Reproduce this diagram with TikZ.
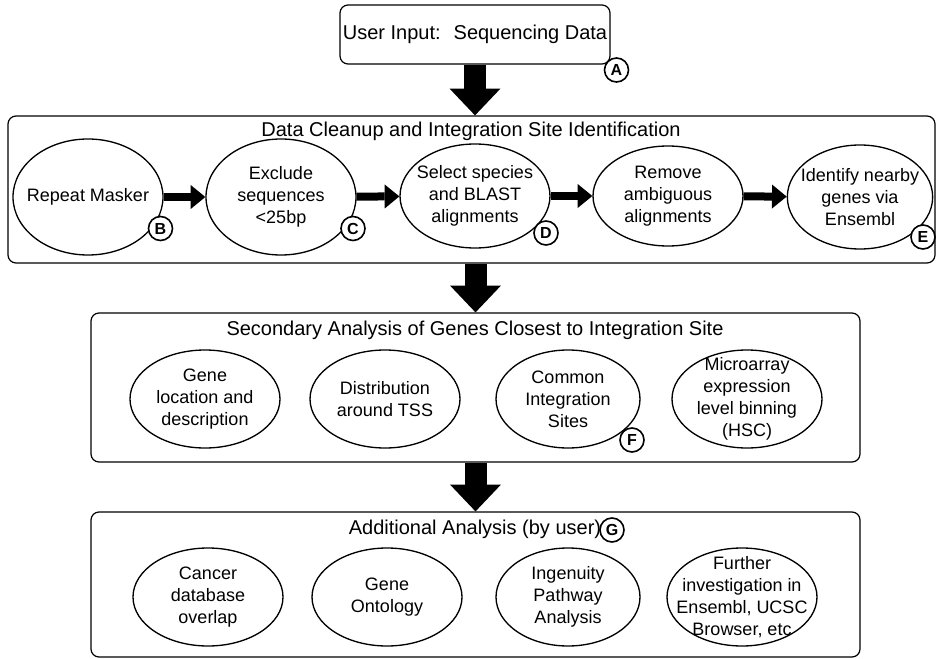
\documentclass[tikz,border=0pt]{standalone}
\usepackage{fontspec}
\setmainfont{Liberation Sans}
\usetikzlibrary{shapes}
\usetikzlibrary{arrows.meta}

\tikzset{
  panel/.style={draw, rounded corners=6pt, line width=0.9pt, inner sep=0pt},
  stage/.style={draw, ellipse, line width=1pt, inner sep=-10pt, align=center,
    font=\fontsize{13.5}{16.5}\selectfont, minimum width=112.5pt, minimum height=73.5pt},
  tag/.style={draw, circle, fill=white, line width=1.2pt, inner sep=0pt, minimum size=18pt,
    font=\fontsize{12}{12}\selectfont\bfseries},
  heading/.style={font=\fontsize{15}{18}\selectfont, inner sep=0pt},
  bigarrow/.style={line width=16.5pt, -{Triangle[width=38pt,length=20pt,line width=0pt]}},
  flow/.style={line width=6pt, -{Triangle[width=18pt,length=11pt,line width=0pt]}},
}

\begin{document}
\begin{tikzpicture}[x=0.75pt,y=0.75pt,yscale=-1,xscale=1]

    \useasboundingbox (0,0) rectangle (938,659);

    %Input box
    \node[panel, minimum width=202.5pt, minimum height=44.25pt, heading] (input) at (475,34.5) {User Input:~ Sequencing Data};

    %Panels
    \node[panel, minimum width=695.25pt, minimum height=110.25pt] (cleanup) at (471.5,189.5) {};
    \node[heading] (cleanuptitle) at (471,131) {Data Cleanup and Integration Site Identification};
    \node[panel, minimum width=576.75pt, minimum height=111.75pt] (secondary) at (475.5,387.5) {};
    \node[heading] (secondarytitle) at (475,330) {Secondary Analysis of Genes Closest to Integration Site};
    \node[panel, minimum width=576.75pt, minimum height=108.75pt] (additional) at (475.5,584.5) {};
    \node[heading] (additionaltitle) at (475,529) {Additional Analysis (by user)};

    %Cleanup steps
    \node[stage, minimum height=87pt] (masker) at (88,197) {Repeat Masker};
    \node[stage, minimum height=87pt] (exclude) at (281,197) {Exclude\\sequences\\<25bp};
    \node[stage, minimum height=78pt] (blast) at (475,196) {Select species\\and BLAST\\alignments};
    \node[stage, minimum height=75pt] (ambig) at (668,196) {Remove\\ambiguous\\alignments};
    \node[stage, minimum height=78pt, minimum width=109pt] (genes) at (860,197) {Identify nearby\\genes via\\Ensembl};

    \draw[flow] (masker) -- (exclude);
    \draw[flow] (exclude) -- (blast);
    \draw[flow] (blast) -- (ambig);
    \draw[flow] (ambig) -- (genes);

    %Secondary analysis
    \node[stage] (location) at (205,399) {Gene\\location and\\description};
    \node[stage] (tss) at (385,399) {Distribution\\around TSS};
    \node[stage, minimum width=108pt] (common) at (568,399) {Common\\Integration\\Sites};
    \node[stage] (microarray) at (747,399) {Microarray\\expression\\level binning\\(HSC)};

    %Additional analysis
    \node[stage] (cancer) at (208,597) {Cancer\\database\\overlap};
    \node[stage] (ontology) at (387,597) {Gene\\Ontology};
    \node[stage, minimum width=108pt] (ingenuity) at (568,597) {Ingenuity\\Pathway\\Analysis};
    \node[stage] (further) at (742,597) {Further\\investigation in\\Ensembl, UCSC\\Browser, etc};

    %Big arrows
    \draw[bigarrow] (input.south) -- (input.south |- cleanup.north);
    \draw[bigarrow] (secondary.north |- cleanup.south) -- (secondary.north);
    \draw[bigarrow] (secondary.south) -- (additional.north);

    %Step tags
    \node[tag] (tagA) at (616.5,70) {A};
    \node[tag] (tagB) at (160.5,228.5) {B};
    \node[tag] (tagC) at (353,228.5) {C};
    \node[tag] (tagD) at (546,233) {D};
    \node[tag] (tagE) at (923,237) {E};
    \node[tag] (tagF) at (632,440) {F};
    \node[tag] (tagG) at (612,530) {G};

\end{tikzpicture}
\end{document}
